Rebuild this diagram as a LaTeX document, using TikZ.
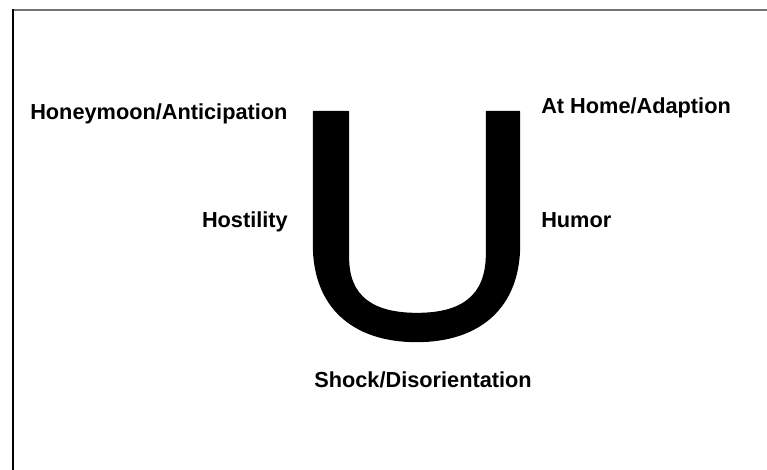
\documentclass[tikz,border=0pt]{standalone}
\usepackage{fontspec}
\setmainfont{Liberation Sans}
\begin{document}
\begin{tikzpicture}[x=0.75pt,y=-0.75pt,
  lbl/.style={inner sep=0pt,font=\fontsize{16.3}{19}\selectfont\bfseries,text=black},
  ushape/.style={fill=black,draw=black,line width=1pt,line join=round}]
\useasboundingbox (0,0) rectangle (767,470);
\fill[white] (0,0) rectangle (767,470);
% frame
\draw[line width=1.6pt,black!55] (12,10) -- (767,10);
\draw[line width=1.8pt,black] (13,9.5) -- (13,470);
% the U
\path[ushape] (313.5,111.5) -- (313.5,245)
  .. controls (313.5,306) and (352,341.5) .. (416.5,341.5)
  .. controls (481,341.5) and (519.5,306) .. (519.5,245)
  -- (519.5,111.5) -- (486.5,111.5) -- (486.5,254)
  .. controls (486.5,296) and (462,313.5) .. (417,313.5)
  .. controls (372,313.5) and (348.5,296) .. (348.5,258)
  -- (348.5,111.5) -- cycle;
% labels
\node[lbl,anchor=base west] (honey) at (30,120) {Honeymoon/Anticipation};
\node[lbl,anchor=base east] (host) at (288,228) {Hostility};
\node[lbl,anchor=base west] (home) at (541,114) {At Home/Adaption};
\node[lbl,anchor=base west] (humor) at (541,228) {Humor};
\node[lbl,anchor=base] (shock) at (423,387) {Shock/Disorientation};
\end{tikzpicture}
\end{document}
